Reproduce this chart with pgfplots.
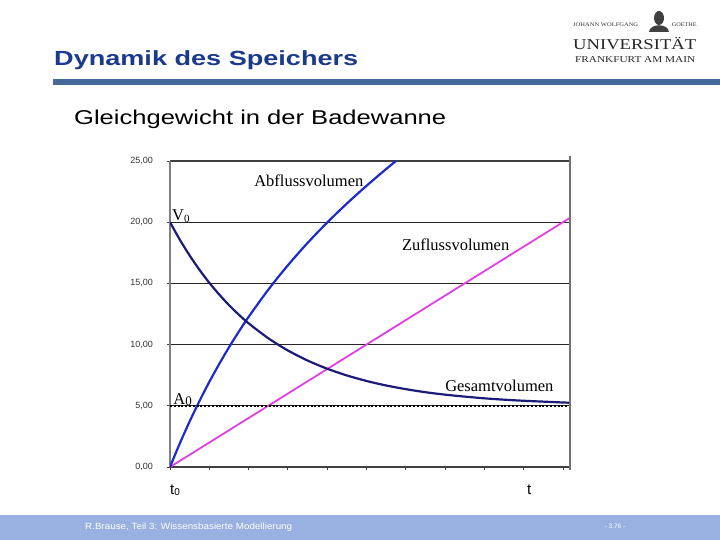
\documentclass[border=0pt]{standalone}
\usepackage{fontspec}
\setmainfont{Liberation Sans}
\newfontfamily\serifA{Liberation Serif}
\usepackage{graphicx}
\usepackage{pgfplots}
\pgfplotsset{compat=1.18}
\definecolor{titleblue}{HTML}{1B3A8C}
\definecolor{rulecol}{HTML}{44699A}
\definecolor{footcol}{HTML}{98B1E1}
\definecolor{abfluss}{HTML}{1E2ACC}
\definecolor{gesamt}{HTML}{1C1C78}
\definecolor{zufluss}{HTML}{E040E0}
\begin{document}
\begin{tikzpicture}[x=1bp,y=1bp]
\path[use as bounding box, fill=white] (0,0) rectangle (720,540);
% title and rule
\fill[rulecol] (53,455) rectangle (720,461);
\node[anchor=base west, inner sep=0, text=titleblue] at (54,474) {\resizebox{304bp}{\height}{\fontsize{20.5bp}{22bp}\selectfont\bfseries Dynamik des Speichers}};
\node[anchor=base west, inner sep=0] at (74,415) {\resizebox{372bp}{\height}{\fontsize{20bp}{22bp}\selectfont Gleichgewicht in der Badewanne}};
% logo
\node[anchor=base west, inner sep=0, text=black!80] at (573,513) {\resizebox{65bp}{\height}{\serifA\fontsize{5.5bp}{6bp}\selectfont JOHANN WOLFGANG}};
\node[anchor=base east, inner sep=0, text=black!80] at (697,513) {\resizebox{25bp}{\height}{\serifA\fontsize{5.5bp}{6bp}\selectfont GOETHE}};
\fill[black!75] (659,522) ellipse (5 and 7);
\fill[black!75] (649,508) .. controls (650,517) and (668,517) .. (669,508) -- cycle;
\node[anchor=base west, inner sep=0, text=black!85] at (573,490) {\resizebox{123bp}{\height}{\serifA\fontsize{15bp}{16bp}\selectfont UNIVERSITÄT}};
\node[anchor=base west, inner sep=0, text=black!85] at (575,477) {\resizebox{120bp}{\height}{\serifA\fontsize{9bp}{10bp}\selectfont FRANKFURT AM MAIN}};
% footer
\fill[footcol] (0,0) rectangle (720,25);
\node[anchor=west, inner sep=0, text=white] at (85,12.5) {\resizebox{207bp}{\height}{\fontsize{9bp}{10bp}\selectfont R.Brause, Teil 3: Wissensbasierte Modellierung}};
\node[text=white, inner sep=0] at (615,14) {\fontsize{6.5bp}{7bp}\selectfont - 3.76 -};
% t labels
\node[anchor=base west, inner sep=0] at (170,45) {\fontsize{15bp}{16bp}\selectfont t\raisebox{-1bp}{\fontsize{10bp}{10bp}\selectfont 0}};
\node[anchor=base west, inner sep=0] at (527,45) {\fontsize{15bp}{16bp}\selectfont t};
\begin{axis}[
  at={(170bp,73bp)}, anchor=south west,
  scale only axis, width=400bp, height=306bp,
  xmin=0, xmax=10.18, ymin=0, ymax=25,
  xtick={0,...,10}, xticklabels={},
  ytick={0,5,...,25},
  xtick pos=bottom, ytick pos=left,
  tick align=outside, major tick length=3.5bp,
  tick style={black!75, line width=0.8bp},
  ymajorgrids, grid style={black!85, line width=0.8bp},
  separate axis lines,
  x axis line style={black!75, line width=1.2bp},
  y axis line style={black!50, line width=1.5bp},
  clip mode=individual,
  yticklabel style={font=\fontsize{9bp}{10bp}\selectfont, text=black!80, xshift=-10bp,
    /pgf/number format/fixed, /pgf/number format/fixed zerofill,
    /pgf/number format/precision=2, /pgf/number format/use comma,
    /pgf/number format/assume math mode=true},
]
% Zuflussvolumen
\addplot[zufluss, line width=1.8bp] coordinates {(0,0) (10.18,20.36)};
% Abflussvolumen
\addplot[abfluss, line width=2.2bp, smooth] coordinates {
(0,0) (0.25,1.93) (0.5,3.72) (0.75,5.39) (1,6.95) (1.25,8.40) (1.5,9.77)
(1.75,11.05) (2,12.26) (2.5,14.48) (3,16.48) (3.5,18.30) (4,19.97)
(4.5,21.52) (5,22.97) (5.5,24.34) (5.75,25.0)};
% Gesamtvolumen
\addplot[gesamt, line width=2.2bp, smooth] coordinates {
(0,20) (0.25,18.57) (0.5,17.28) (0.75,16.11) (1,15.05) (1.25,14.10)
(1.5,13.23) (1.75,12.45) (2,11.74) (2.5,10.52) (3,9.52) (3.5,8.70)
(4,8.03) (4.5,7.48) (5,7.03) (5.5,6.66) (6,6.36) (6.5,6.11) (7,5.91)
(7.5,5.75) (8,5.61) (8.5,5.50) (9,5.41) (9.5,5.34) (10,5.27) (10.18,5.25)};
% A0 level
\addplot[black, line width=2bp, dash pattern=on 2bp off 1.8bp] coordinates {(0,5) (10.18,5)};
\draw[black!55, line width=1.8bp] (axis cs:10.18,-0.25) -- (axis cs:10.18,25.4);
\node[anchor=base west, inner sep=0, font=\serifA\fontsize{16.5bp}{18bp}\selectfont] at (axis cs:2.14,22.88) {Abflussvolumen};
\node[anchor=base west, inner sep=0, font=\serifA\fontsize{16.5bp}{18bp}\selectfont] at (axis cs:5.9,17.65) {Zuflussvolumen};
\node[anchor=base west, inner sep=0, font=\serifA\fontsize{16.5bp}{18bp}\selectfont] at (axis cs:7.0,6.2) {Gesamtvolumen};
\node[anchor=base west, inner sep=0, font=\serifA\fontsize{16.5bp}{18bp}\selectfont] at (axis cs:0.05,20.15) {V\raisebox{-2bp}{\fontsize{11bp}{11bp}\selectfont 0}};
\node[anchor=base west, inner sep=0, font=\serifA\fontsize{16.5bp}{18bp}\selectfont] at (axis cs:0.08,5.1) {A\raisebox{-1bp}{\fontsize{13bp}{13bp}\selectfont 0}};
\end{axis}
\end{tikzpicture}
\end{document}
